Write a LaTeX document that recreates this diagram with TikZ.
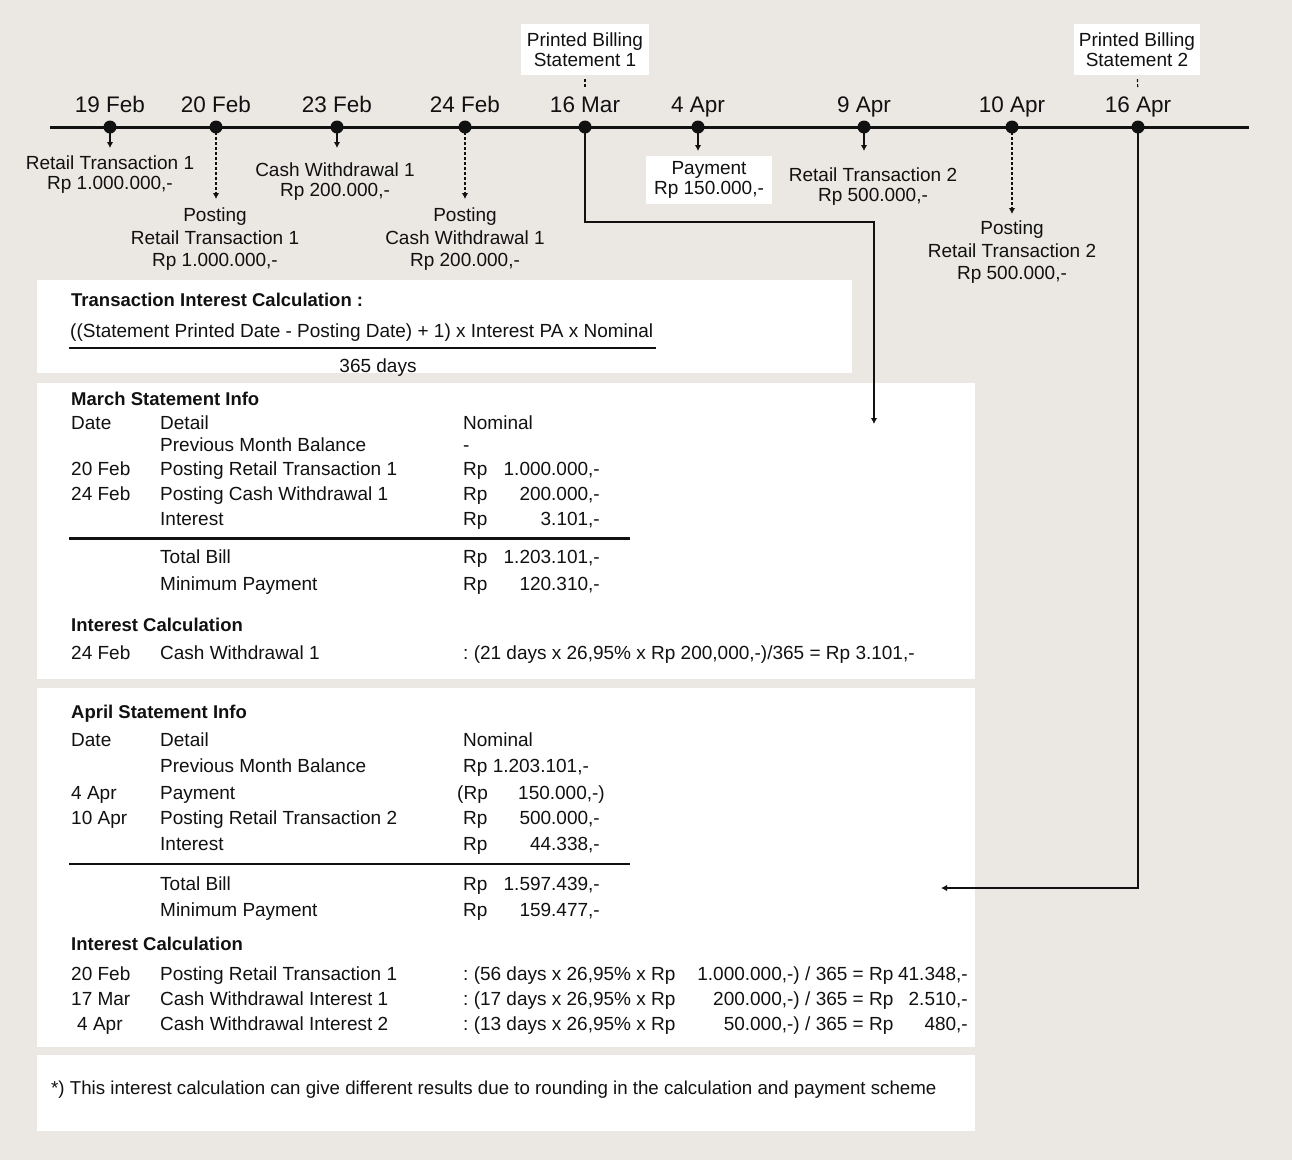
\documentclass[tikz,border=0pt]{standalone}
\usepackage{fontspec}
\setmainfont{Liberation Sans}
\usetikzlibrary{calc}
\usetikzlibrary{arrows.meta}
\usetikzlibrary{positioning}
\frenchspacing

\definecolor{paper}{HTML}{EBE7E3}
\definecolor{ink}{HTML}{111111}

\tikzset{
    txt/.style={font=\fontsize{19}{20}\selectfont, text=ink, inner sep=0pt},
    headtxt/.style={font=\fontsize{18.5}{20}\selectfont\bfseries, text=ink, inner sep=0pt, anchor=base west},
    datetxt/.style={font=\fontsize{22.5}{26}\selectfont, text=ink, inner sep=0pt, anchor=base},
    evtxt/.style={txt, align=center, anchor=north},
    rowtxt/.style={txt, anchor=base west},
    numtxt/.style={txt, anchor=base east},
    billbox/.style={txt, fill=white, align=center, minimum height=51pt},
    evarrow/.style={line width=2pt, draw=ink, -{Latex[length=6pt,width=6.5pt]}},
    dashline/.style={dash pattern=on 3pt off 2pt},
    rulebar/.style={line width=2.6pt, draw=ink}
}

\begin{document}
\begin{tikzpicture}[x=1pt,y=-1pt]
            \fill[paper] (0,0) rectangle (1292,1160);
            \useasboundingbox (0,0) rectangle (1292,1160);

            \fill[white] (37,280) rectangle (852,373);
            \fill[white] (37,383) rectangle (975,679);
            \fill[white] (37,688) rectangle (975,1047);
            \fill[white] (37,1055) rectangle (975,1131);

            \draw[line width=3pt, ink] (50,127) -- (1249,127);
            \foreach \nm/\xx/\lbl in {a/110/19 Feb, b/216/20 Feb, c/337/23 Feb, d/465/24 Feb, e/585/16 Mar, f/698/4 Apr, g/864/9 Apr, h/1012/10 Apr, k/1138/16 Apr}{
                \coordinate (\nm) at (\xx,127);
                \fill[ink] (\nm) circle (6.5pt);
                \node[datetxt] (\nm-date) at (\xx,112) {\lbl};
            }

            \node[billbox, minimum width=128pt] (bill1) at (585,49.5) {Printed Billing\\Statement 1};
            \node[billbox, minimum width=126pt] (bill2) at (1137,49.5) {Printed Billing\\Statement 2};
            \draw[ink, line width=1.2pt, dash pattern=on 3pt off 2pt, shorten <=4pt, shorten >=8pt] (bill1) -- (e-date);
            \draw[ink, line width=1.2pt, dash pattern=on 3pt off 2pt, shorten <=4pt, shorten >=8pt] (bill2) -- (k-date);

            \node[evtxt] (a-evt) at (110,156) {Retail Transaction 1\\Rp 1.000.000,-};
            \node[evtxt, font=\fontsize{19}{22.5}\selectfont] (b-evt) at (215,208) {Posting\\Retail Transaction 1\\Rp 1.000.000,-};
            \node[evtxt] (c-evt) at (335,163) {Cash Withdrawal 1\\Rp 200.000,-};
            \node[evtxt, font=\fontsize{19}{22.5}\selectfont] (d-evt) at (465,208) {Posting\\Cash Withdrawal 1\\Rp 200.000,-};
            \node[txt, align=center, fill=white, minimum width=126pt, minimum height=48pt] (f-evt) at (709,180) {Payment\\Rp 150.000,-};
            \node[evtxt] (g-evt) at (873,168) {Retail Transaction 2\\Rp 500.000,-};
            \node[evtxt, font=\fontsize{19}{22.5}\selectfont] (h-evt) at (1012,221) {Posting\\Retail Transaction 2\\Rp 500.000,-};

            \foreach \nm/\yy/\sty in {a/148/solid, b/199/dashline, c/148/solid, d/199/dashline, f/151/solid, g/151/solid, h/214/dashline}{
                \coordinate (\nm-tip) at (\nm |- 0,\yy);
                \draw[evarrow, \sty] (\nm) -- (\nm-tip);
            }

            \coordinate (mar-in) at (874,424);
            \coordinate (apr-in) at (941,888);
            \draw[evarrow] (e) -- (e |- 0,222) -| (mar-in);
            \draw[evarrow] (k) |- (apr-in);

            \node[headtxt] (f-head) at (71,306) {Transaction Interest Calculation :};
            \node[rowtxt] (f-num) at (70,337) {((Statement Printed Date - Posting Date) + 1) x Interest PA x Nominal};
            \draw[rulebar] (69,348) -- (656,348);
            \node[txt, anchor=base] (f-den) at (378,372) {365 days};

            \node[headtxt] (m-head) at (71,405) {March Statement Info};
            \foreach \yy/\dt/\dl in {429/Date/Detail, 451//Previous Month Balance, 475/20 Feb/Posting Retail Transaction 1, 500/24 Feb/Posting Cash Withdrawal 1, 525//Interest, 563//Total Bill, 590//Minimum Payment, 659/24 Feb/Cash Withdrawal 1}{
                \node[rowtxt] (m-dt-\yy) at (71,\yy) {\dt};
                \node[rowtxt] (m-dl-\yy) at (160,\yy) {\dl};
            }
            \node[rowtxt] (m-nom) at (463,429) {Nominal};
            \node[rowtxt] (m-prev) at (463,451) {-};
            \foreach \yy/\amt in {475/{1.000.000,-}, 500/{200.000,-}, 525/{3.101,-}, 563/{1.203.101,-}, 590/{120.310,-}}{
                \node[rowtxt] (m-rp-\yy) at (463,\yy) {Rp};
                \node[numtxt] (m-amt-\yy) at (600,\yy) {\amt};
            }
            \draw[rulebar] (69,538.5) -- (630,538.5);
            \node[headtxt] (m-calc) at (71,631) {Interest Calculation};
            \node[rowtxt] (m-calc-1) at (463,659) {: (21 days x 26,95\% x Rp 200,000,-)/365 = Rp 3.101,-};

            \node[headtxt] (p-head) at (71,718) {April Statement Info};
            \foreach \yy/\xx/\dt/\dl in {746/71/Date/Detail, 772/71//Previous Month Balance, 799/71/4 Apr/Payment, 824/71/10 Apr/Posting Retail Transaction 2, 850/71//Interest, 890/71//Total Bill, 916/71//Minimum Payment, 980/71/20 Feb/Posting Retail Transaction 1, 1005/71/17 Mar/Cash Withdrawal Interest 1, 1030/77/4 Apr/Cash Withdrawal Interest 2}{
                \node[rowtxt] (p-dt-\yy) at (\xx,\yy) {\dt};
                \node[rowtxt] (p-dl-\yy) at (160,\yy) {\dl};
            }
            \node[rowtxt] (p-nom) at (463,746) {Nominal};
            \node[rowtxt] (p-prev) at (463,772) {Rp 1.203.101,-};
            \node[rowtxt] (p-rp-799) at (457,799) {(Rp};
            \node[numtxt] (p-amt-799) at (605,799) {150.000,-)};
            \foreach \yy/\amt in {824/{500.000,-}, 850/{44.338,-}, 890/{1.597.439,-}, 916/{159.477,-}}{
                \node[rowtxt] (p-rp-\yy) at (463,\yy) {Rp};
                \node[numtxt] (p-amt-\yy) at (600,\yy) {\amt};
            }
            \draw[rulebar] (69,864) -- (630,864);
            \node[headtxt] (p-calc) at (71,950) {Interest Calculation};
            \foreach \yy/\dd/\base/\res in {980/56/{1.000.000,-)}/{41.348,-}, 1005/17/{200.000,-)}/{2.510,-}, 1030/13/{50.000,-)}/{480,-}}{
                \node[rowtxt] (p-days-\yy) at (463,\yy) {: (\dd\ days x 26,95\% x Rp};
                \node[numtxt] (p-base-\yy) at (800,\yy) {\base};
                \node[rowtxt] (p-div-\yy) at (805,\yy) {/ 365 = Rp};
                \node[numtxt] (p-res-\yy) at (968,\yy) {\res};
            }

            \node[rowtxt, font=\fontsize{18.7}{20}\selectfont] (note) at (51,1094) {*) This interest calculation can give different results due to rounding in the calculation and payment scheme};
        \end{tikzpicture}
\end{document}
